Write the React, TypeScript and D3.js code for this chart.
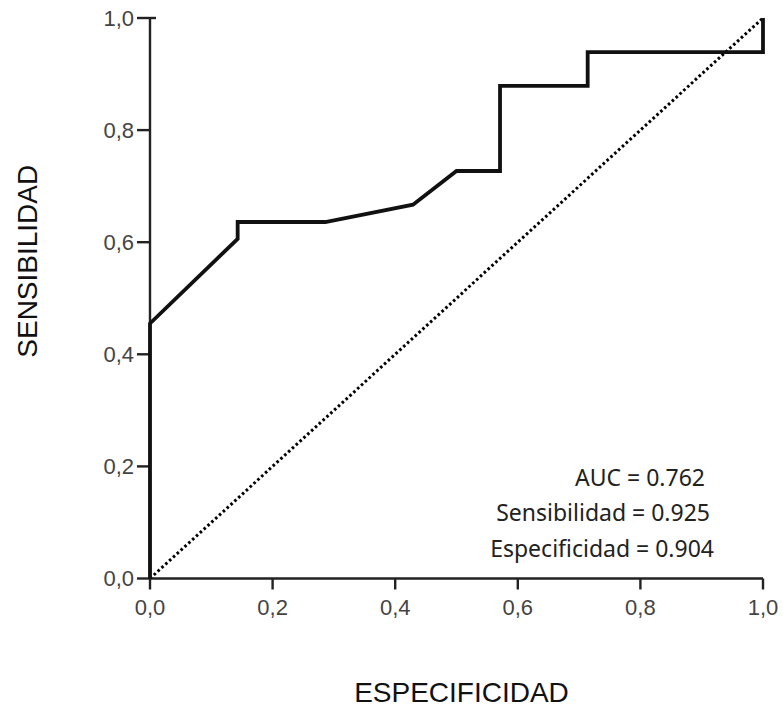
import React from "react";
import * as d3 from "d3";

// ROC curve points (1 - especificidad, sensibilidad)
const fpr = [0, 0, 0.143, 0.143, 0.286, 0.429, 0.5, 0.571, 0.571, 0.714, 0.714, 1, 1];
const tpr = [0, 0.455, 0.606, 0.636, 0.636, 0.667, 0.727, 0.727, 0.879, 0.879, 0.939, 0.939, 1];

const tickValues = [0, 0.2, 0.4, 0.6, 0.8, 1.0];
const statLabels = ["AUC = 0.762", "Sensibilidad = 0.925", "Especificidad = 0.904"];

const W = 783;
const H = 708;
const margin = { top: 18, right: 20, bottom: 129.5, left: 150 };

const App = () => {
    const x = d3.scaleLinear().domain([0, 1]).range([margin.left, W - margin.right]);
    const y = d3.scaleLinear().domain([0, 1]).range([H - margin.bottom, margin.top]);

    const pts: [number, number][] = fpr.map((f, i) => [f, tpr[i]]);
    const line = d3
        .line<[number, number]>()
        .x((d) => x(d[0]))
        .y((d) => y(d[1]));

    const fmt = (v: number) => d3.format(".1f")(v).replace(".", ",");
    const tickFont = "'Liberation Sans', Arial, sans-serif";

    const statRight = [705, 710, 714];
    const statBase = [486, 521, 557];

    return (
        <div style={{ position: "absolute", left: 0, top: 0 }}>
            <svg width={W} height={H} style={{ display: "block", background: "#fff" }}>
                {/* reference diagonal */}
                <path
                    d={line([[0, 0], [1, 1]]) || ""}
                    fill="none"
                    stroke="#000"
                    strokeWidth={3}
                    strokeDasharray="2.6,2.6"
                />
                {/* axes */}
                <line x1={x(0)} x2={x(0)} y1={y(0)} y2={y(1)} stroke="#222" strokeWidth={2.4} />
                <line x1={x(0)} x2={x(1)} y1={y(0)} y2={y(0)} stroke="#222" strokeWidth={2.4} />
                <line x1={x(0)} x2={x(0) + 6} y1={y(1)} y2={y(1)} stroke="#222" strokeWidth={2.4} />
                {tickValues.map((t) => (
                    <g key={"y" + t}>
                        <line x1={x(0) - 13} x2={x(0)} y1={y(t)} y2={y(t)} stroke="#222" strokeWidth={2.4} />
                        <text
                            x={x(0) - 16}
                            y={y(t)}
                            dy="0.36em"
                            textAnchor="end"
                            fontFamily={tickFont}
                            fontSize={22}
                            fill="#444"
                        >
                            {fmt(t)}
                        </text>
                    </g>
                ))}
                {tickValues.map((t) => (
                    <g key={"x" + t}>
                        <line x1={x(t)} x2={x(t)} y1={y(0)} y2={y(0) + 11} stroke="#222" strokeWidth={2.4} />
                        <text
                            x={x(t)}
                            y={y(0) + 36}
                            textAnchor="middle"
                            fontFamily={tickFont}
                            fontSize={22}
                            fill="#444"
                        >
                            {fmt(t)}
                        </text>
                    </g>
                ))}
                {/* ROC curve */}
                <path
                    d={line(pts) || ""}
                    fill="none"
                    stroke="#111"
                    strokeWidth={3.8}
                    strokeLinejoin="miter"
                />
                {/* stats */}
                {statLabels.map((s, i) => (
                    <text
                        key={s}
                        x={statRight[i]}
                        y={statBase[i]}
                        textAnchor="end"
                        fontFamily="'Noto Sans', 'Open Sans', sans-serif"
                        fontSize={23}
                        fill="#222"
                    >
                        {s}
                    </text>
                ))}
                {/* axis titles */}
                <text
                    transform={`translate(37, ${(y(0) + y(1)) / 2 - 37}) rotate(-90)`}
                    textAnchor="middle"
                    fontFamily={tickFont}
                    fontSize={28}
                    fill="#111"
                >
                    SENSIBILIDAD
                </text>
                <text
                    x={(x(0) + x(1)) / 2 + 5}
                    y={702}
                    textAnchor="middle"
                    fontFamily={tickFont}
                    fontSize={28}
                    fill="#111"
                >
                    ESPECIFICIDAD
                </text>
            </svg>
        </div>
    );
};

export default App;
